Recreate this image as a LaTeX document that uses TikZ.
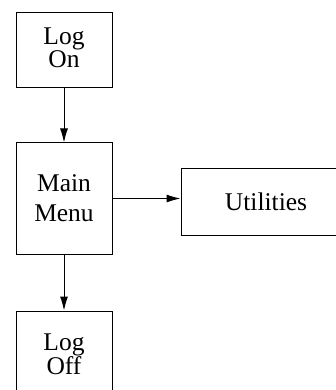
\documentclass[tikz,border=0pt]{standalone}
\usepackage{fontspec}
\setmainfont{Liberation Serif}
\usetikzlibrary{arrows.meta,calc}
\begin{document}
\begin{tikzpicture}[x=1pt,y=-1pt,
  box/.style={draw,line width=1pt,inner sep=0pt,align=center},
  conn/.style={line width=1pt,-{Latex[length=14pt,width=8pt]}}]
\useasboundingbox (0,0) rectangle (336,390);
\clip (0,0) rectangle (336,390);
\node[box,minimum width=96pt,minimum height=75pt,text depth=6pt,
  font=\fontsize{25.5}{21.5}\selectfont] (logon) at (64,50.5) {Log\\On};
\node[box,minimum width=96pt,minimum height=111pt,
  font=\fontsize{25.5}{30}\selectfont] (main) at (64,198.5) {Main\\Menu};
\node[box,minimum width=170pt,minimum height=67pt,
  font=\fontsize{25.5}{30}\selectfont] (util) at (266,201.5) {Utilities};
\node[box,minimum width=96pt,minimum height=86pt,
  font=\fontsize{25.5}{24}\selectfont] (logoff) at (64,354) {Log\\Off};
\draw[conn] (logon) -- (main);
\draw[conn] (main.east) -- (util.west |- main.east);
\draw[conn] (main) -- (logoff);
\end{tikzpicture}
\end{document}
